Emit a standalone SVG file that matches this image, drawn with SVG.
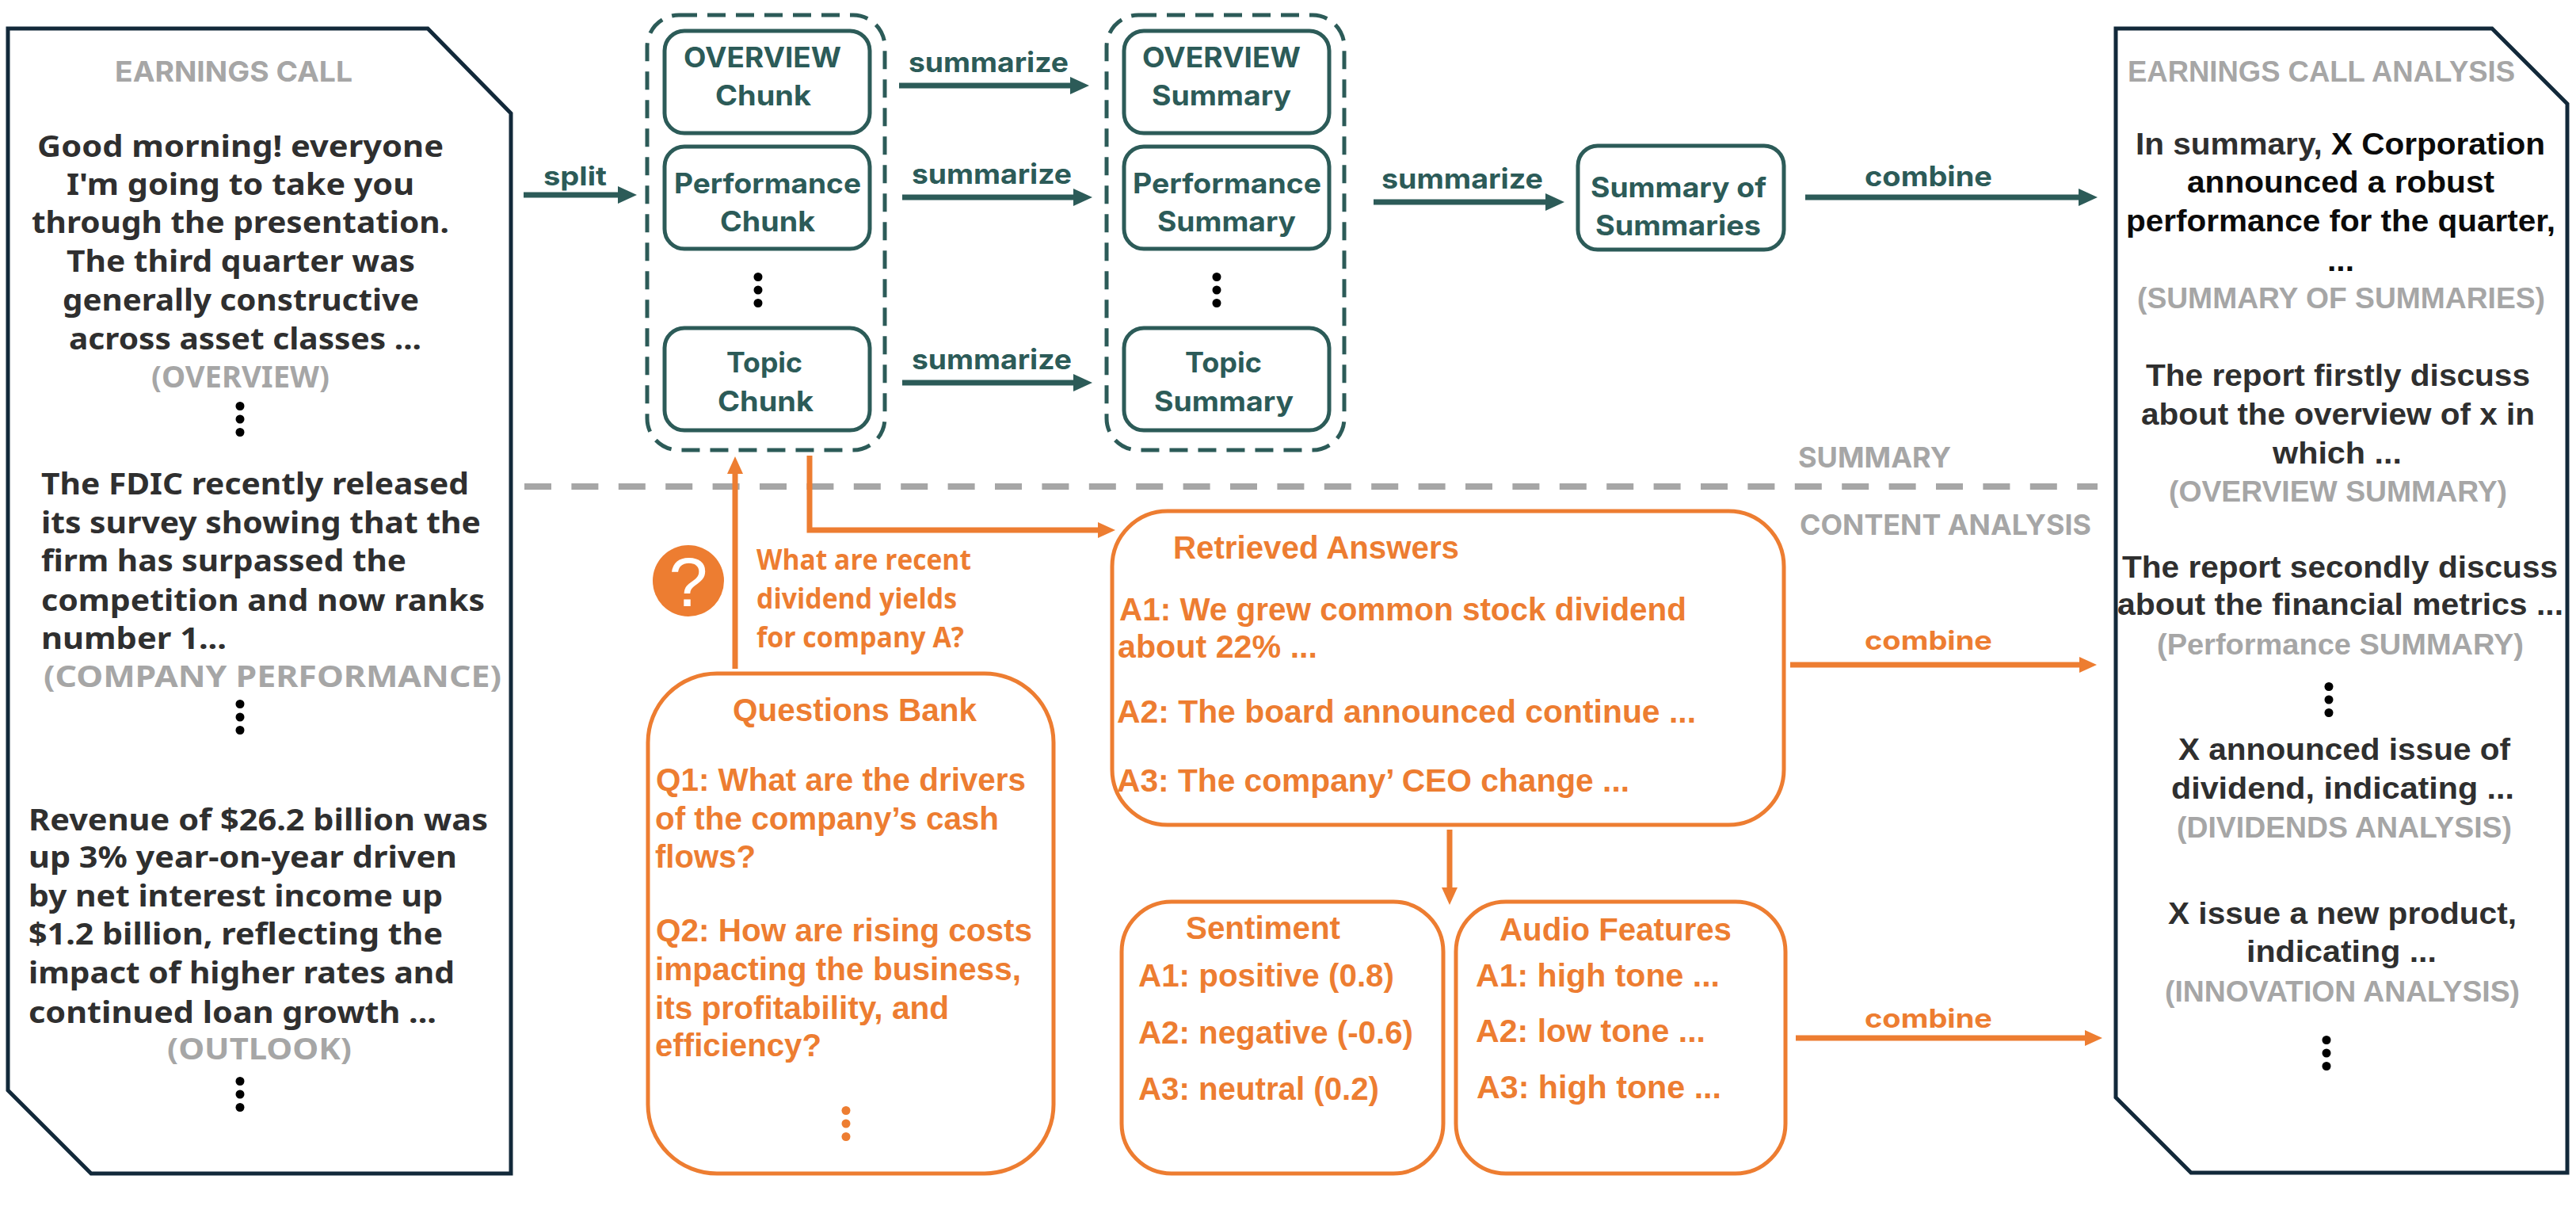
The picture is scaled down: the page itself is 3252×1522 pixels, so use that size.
<svg xmlns="http://www.w3.org/2000/svg" width="3252" height="1522" viewBox="0 0 3252 1522">
<style>
.bg{fill:#fff}
.doc{fill:#fff;stroke:#12293a;stroke-width:5;stroke-linejoin:miter}
.group{fill:none;stroke:#2c5b58;stroke-width:5;stroke-dasharray:23 13}
.tealbox{fill:#fff;stroke:#2c5b58;stroke-width:5}
.orangebox{fill:#fff;stroke:#ed7d31;stroke-width:5}
text{font-weight:700}
.src{font-family:"Noto Sans","Open Sans",sans-serif;font-size:38px;fill:#2f2f2f}
.srcg{font-family:"Noto Sans","Open Sans",sans-serif;font-size:38px;fill:#a6a6a6}
.rep{font-family:"Liberation Sans",Arial,sans-serif;font-size:38px;fill:#2f2f2f}
.repk{font-family:"Liberation Sans",Arial,sans-serif;font-size:38px;fill:#0b0b0b}
.repg{font-family:"Liberation Sans",Arial,sans-serif;font-size:36px;fill:#a6a6a6}
.head{font-family:Inter,Roboto,sans-serif;font-size:36px;fill:#a6a6a6}
.t{font-family:Inter,Roboto,sans-serif;font-size:35px;fill:#2c5b58}
.o{font-family:"Liberation Sans",Arial,sans-serif;font-size:40px;fill:#ed7d31}
.ol{font-family:Inter,Roboto,sans-serif;font-size:32px;fill:#ed7d31}
.oq{font-family:"Open Sans","Noto Sans",sans-serif;font-size:35px;fill:#ed7d31}
.wire{fill:none;stroke-width:7}
.wt{stroke:#2c5b58}
.wo{stroke:#ed7d31}
.sep{fill:none;stroke:#a6a6a6;stroke-width:8;stroke-dasharray:34 25.4}
</style>
<defs>
<marker id="headTeal" markerUnits="userSpaceOnUse" markerWidth="24" markerHeight="24" refX="12" refY="12" orient="auto"><path d="M0 1 L24 12 L0 23 Z" fill="#2c5b58"/></marker>
<marker id="headOrange" markerUnits="userSpaceOnUse" markerWidth="24" markerHeight="24" refX="10" refY="11" orient="auto"><path d="M0 1 L22 11 L0 21 Z" fill="#ed7d31"/></marker>
<g id="vdots"><circle cx="0" cy="-16.5" r="5.5"/><circle cx="0" cy="0" r="5.5"/><circle cx="0" cy="16.5" r="5.5"/></g>
</defs>
<rect class="bg" width="3252" height="1522"/>

<!-- Source transcript document -->
<g id="earnings-call">
<path class="doc" d="M10 36 H540 L645 143 V1481 H115 L10 1376 Z"/>
<text class="head" x="145" y="103" textLength="300" lengthAdjust="spacingAndGlyphs">EARNINGS CALL</text>
<text class="src" x="47" y="198" textLength="513" lengthAdjust="spacingAndGlyphs">Good morning! everyone</text>
<text class="src" x="84" y="246" textLength="439" lengthAdjust="spacingAndGlyphs">I'm going to take you</text>
<text class="src" x="40" y="294" textLength="527" lengthAdjust="spacingAndGlyphs">through the presentation.</text>
<text class="src" x="84" y="343" textLength="440" lengthAdjust="spacingAndGlyphs">The third quarter was</text>
<text class="src" x="79" y="392" textLength="450" lengthAdjust="spacingAndGlyphs">generally constructive</text>
<text class="src" x="87" y="441" textLength="445" lengthAdjust="spacingAndGlyphs">across asset classes ...</text>
<text class="srcg" x="191" y="489" textLength="225" lengthAdjust="spacingAndGlyphs">(OVERVIEW)</text>
<use href="#vdots" x="303" y="529"/>
<text class="src" x="52" y="624" textLength="540" lengthAdjust="spacingAndGlyphs">The FDIC recently released</text>
<text class="src" x="52" y="673" textLength="555" lengthAdjust="spacingAndGlyphs">its survey showing that the</text>
<text class="src" x="52" y="721" textLength="461" lengthAdjust="spacingAndGlyphs">firm has surpassed the</text>
<text class="src" x="52" y="771" textLength="560" lengthAdjust="spacingAndGlyphs">competition and now ranks</text>
<text class="src" x="52" y="819" textLength="234" lengthAdjust="spacingAndGlyphs">number 1...</text>
<text class="srcg" x="55" y="867" textLength="578" lengthAdjust="spacingAndGlyphs">(COMPANY PERFORMANCE)</text>
<use href="#vdots" x="303" y="905"/>
<text class="src" x="36" y="1048" textLength="580" lengthAdjust="spacingAndGlyphs">Revenue of $26.2 billion was</text>
<text class="src" x="36" y="1095" textLength="541" lengthAdjust="spacingAndGlyphs">up 3% year-on-year driven</text>
<text class="src" x="36" y="1144" textLength="523" lengthAdjust="spacingAndGlyphs">by net interest income up</text>
<text class="src" x="36" y="1192" textLength="523" lengthAdjust="spacingAndGlyphs">$1.2 billion, reflecting the</text>
<text class="src" x="36" y="1241" textLength="538" lengthAdjust="spacingAndGlyphs">impact of higher rates and</text>
<text class="src" x="36" y="1291" textLength="515" lengthAdjust="spacingAndGlyphs">continued loan growth ...</text>
<text class="srcg" x="211" y="1337" textLength="233" lengthAdjust="spacingAndGlyphs">(OUTLOOK)</text>
<use href="#vdots" x="303" y="1381"/>
</g>

<!-- Dashed containers -->
<g id="chunk-group"><rect class="group" x="817" y="19" width="300" height="549" rx="40"/></g>
<g id="summary-group"><rect class="group" x="1397" y="19" width="300" height="549" rx="40"/></g>

<!-- Chunks -->
<g id="chunk-overview">
<rect class="tealbox" x="839" y="39" width="259" height="129" rx="25"/>
<text class="t" x="863" y="85" textLength="199" lengthAdjust="spacingAndGlyphs">OVERVIEW</text>
<text class="t" x="903" y="133" textLength="121" lengthAdjust="spacingAndGlyphs">Chunk</text>
</g>
<g id="chunk-performance">
<rect class="tealbox" x="839" y="185" width="259" height="129" rx="25"/>
<text class="t" x="851" y="244" textLength="236" lengthAdjust="spacingAndGlyphs">Performance</text>
<text class="t" x="909" y="292" textLength="120" lengthAdjust="spacingAndGlyphs">Chunk</text>
</g>
<use href="#vdots" x="957" y="366"/>
<g id="chunk-topic">
<rect class="tealbox" x="839" y="414" width="259" height="129" rx="25"/>
<text class="t" x="917" y="470" textLength="96" lengthAdjust="spacingAndGlyphs">Topic</text>
<text class="t" x="906" y="519" textLength="121" lengthAdjust="spacingAndGlyphs">Chunk</text>
</g>

<!-- Section summaries -->
<g id="summary-overview">
<rect class="tealbox" x="1419" y="39" width="259" height="129" rx="25"/>
<text class="t" x="1442" y="85" textLength="200" lengthAdjust="spacingAndGlyphs">OVERVIEW</text>
<text class="t" x="1454" y="133" textLength="176" lengthAdjust="spacingAndGlyphs">Summary</text>
</g>
<g id="summary-performance">
<rect class="tealbox" x="1419" y="185" width="259" height="129" rx="25"/>
<text class="t" x="1430" y="244" textLength="238" lengthAdjust="spacingAndGlyphs">Performance</text>
<text class="t" x="1461" y="292" textLength="175" lengthAdjust="spacingAndGlyphs">Summary</text>
</g>
<use href="#vdots" x="1536" y="366"/>
<g id="summary-topic">
<rect class="tealbox" x="1419" y="414" width="259" height="129" rx="25"/>
<text class="t" x="1496" y="470" textLength="97" lengthAdjust="spacingAndGlyphs">Topic</text>
<text class="t" x="1457" y="519" textLength="176" lengthAdjust="spacingAndGlyphs">Summary</text>
</g>

<g id="summary-of-summaries">
<rect class="tealbox" x="1992" y="184" width="260" height="131" rx="25"/>
<text class="t" x="2008" y="249" textLength="222" lengthAdjust="spacingAndGlyphs">Summary of</text>
<text class="t" x="2014" y="297" textLength="209" lengthAdjust="spacingAndGlyphs">Summaries</text>
</g>

<!-- Section captions around the divider -->
<g id="section-labels">
<text class="head" x="2270" y="590" textLength="193" lengthAdjust="spacingAndGlyphs">SUMMARY</text>
<text class="head" x="2272" y="675" textLength="368" lengthAdjust="spacingAndGlyphs">CONTENT ANALYSIS</text>
</g>

<!-- Question prompt -->
<g id="question-prompt">
<circle cx="869" cy="733" r="45" fill="#ed7d31"/>
<text x="869" y="765" text-anchor="middle" font-family="Liberation Sans, Arial, sans-serif" font-size="88" style="font-weight:400" fill="#fff">?</text>
<text class="oq" x="955" y="719" textLength="271" lengthAdjust="spacingAndGlyphs">What are recent</text>
<text class="oq" x="955" y="768" textLength="253" lengthAdjust="spacingAndGlyphs">dividend yields</text>
<text class="oq" x="955" y="817" textLength="262" lengthAdjust="spacingAndGlyphs">for company A?</text>
</g>

<g id="questions-bank">
<rect class="orangebox" x="818" y="850" width="512" height="631" rx="87"/>
<text class="o" x="925" y="910" textLength="308" lengthAdjust="spacingAndGlyphs">Questions Bank</text>
<text class="o" x="828" y="998" textLength="467" lengthAdjust="spacingAndGlyphs">Q1: What are the drivers</text>
<text class="o" x="827" y="1047" textLength="434" lengthAdjust="spacingAndGlyphs">of the company’s cash</text>
<text class="o" x="827" y="1095" textLength="127" lengthAdjust="spacingAndGlyphs">flows?</text>
<text class="o" x="828" y="1188" textLength="475" lengthAdjust="spacingAndGlyphs">Q2: How are rising costs</text>
<text class="o" x="827" y="1237" textLength="462" lengthAdjust="spacingAndGlyphs">impacting the business,</text>
<text class="o" x="827" y="1286" textLength="371" lengthAdjust="spacingAndGlyphs">its profitability, and</text>
<text class="o" x="827" y="1333" textLength="210" lengthAdjust="spacingAndGlyphs">efficiency?</text>
<use href="#vdots" x="1068" y="1418" fill="#ed7d31"/>
</g>

<g id="retrieved-answers">
<rect class="orangebox" x="1404" y="645" width="848" height="396" rx="70"/>
<text class="o" x="1481" y="705" textLength="361" lengthAdjust="spacingAndGlyphs">Retrieved Answers</text>
<text class="o" x="1413" y="783" textLength="716" lengthAdjust="spacingAndGlyphs">A1: We grew common stock dividend</text>
<text class="o" x="1411" y="830" textLength="252" lengthAdjust="spacingAndGlyphs">about 22% ...</text>
<text class="o" x="1410" y="912" textLength="731" lengthAdjust="spacingAndGlyphs">A2: The board announced continue ...</text>
<text class="o" x="1410" y="999" textLength="647" lengthAdjust="spacingAndGlyphs">A3: The company’ CEO change ...</text>
</g>

<g id="sentiment">
<rect class="orangebox" x="1416" y="1138" width="406" height="343" rx="63"/>
<text class="o" x="1497" y="1185" textLength="195" lengthAdjust="spacingAndGlyphs">Sentiment</text>
<text class="o" x="1437" y="1245" textLength="323" lengthAdjust="spacingAndGlyphs">A1: positive (0.8)</text>
<text class="o" x="1437" y="1317" textLength="347" lengthAdjust="spacingAndGlyphs">A2: negative (-0.6)</text>
<text class="o" x="1437" y="1388" textLength="304" lengthAdjust="spacingAndGlyphs">A3: neutral (0.2)</text>
</g>

<g id="audio-features">
<rect class="orangebox" x="1838" y="1138" width="416" height="343" rx="63"/>
<text class="o" x="1893" y="1187" textLength="293" lengthAdjust="spacingAndGlyphs">Audio Features</text>
<text class="o" x="1863" y="1245" textLength="308" lengthAdjust="spacingAndGlyphs">A1: high tone ...</text>
<text class="o" x="1863" y="1315" textLength="290" lengthAdjust="spacingAndGlyphs">A2: low tone ...</text>
<text class="o" x="1864" y="1386" textLength="309" lengthAdjust="spacingAndGlyphs">A3: high tone ...</text>
</g>

<!-- Generated analysis document -->
<g id="earnings-call-analysis">
<path class="doc" d="M2671 36 H3146 L3241 131 V1480 H2766 L2671 1385 Z"/>
<text class="head" x="2686" y="103" textLength="489" lengthAdjust="spacingAndGlyphs" style="font-family:'Liberation Sans',Arial,sans-serif">EARNINGS CALL ANALYSIS</text>
<text class="repk" x="2696" y="195" textLength="517" lengthAdjust="spacingAndGlyphs"><tspan fill="#2f2f2f">In summary, </tspan>X Corporation</text>
<text class="repk" x="2761" y="243" textLength="388" lengthAdjust="spacingAndGlyphs">announced a robust</text>
<text class="repk" x="2684" y="292" textLength="542" lengthAdjust="spacingAndGlyphs">performance for the quarter,</text>
<text class="repk" x="2938" y="342" textLength="34" lengthAdjust="spacingAndGlyphs">...</text>
<text class="repg" x="2698" y="389" textLength="515" lengthAdjust="spacingAndGlyphs">(SUMMARY OF SUMMARIES)</text>
<text class="rep" x="2709" y="487" textLength="485" lengthAdjust="spacingAndGlyphs">The report firstly discuss</text>
<text class="rep" x="2703" y="536" textLength="497" lengthAdjust="spacingAndGlyphs">about the overview of x in</text>
<text class="rep" x="2869" y="585" textLength="163" lengthAdjust="spacingAndGlyphs">which ...</text>
<text class="repg" x="2738" y="633" textLength="427" lengthAdjust="spacingAndGlyphs">(OVERVIEW SUMMARY)</text>
<text class="rep" x="2679" y="729" textLength="550" lengthAdjust="spacingAndGlyphs">The report secondly discuss</text>
<text class="rep" x="2673" y="776" textLength="563" lengthAdjust="spacingAndGlyphs">about the financial metrics ...</text>
<text class="repg" x="2723" y="826" textLength="463" lengthAdjust="spacingAndGlyphs">(Performance SUMMARY)</text>
<use href="#vdots" x="2940" y="883"/>
<text class="rep" x="2750" y="959" textLength="419" lengthAdjust="spacingAndGlyphs">X announced issue of</text>
<text class="rep" x="2741" y="1008" textLength="433" lengthAdjust="spacingAndGlyphs">dividend, indicating ...</text>
<text class="repg" x="2748" y="1057" textLength="423" lengthAdjust="spacingAndGlyphs">(DIVIDENDS ANALYSIS)</text>
<text class="rep" x="2737" y="1166" textLength="440" lengthAdjust="spacingAndGlyphs">X issue a new product,</text>
<text class="rep" x="2836" y="1214" textLength="240" lengthAdjust="spacingAndGlyphs">indicating ...</text>
<text class="repg" x="2733" y="1264" textLength="448" lengthAdjust="spacingAndGlyphs">(INNOVATION ANALYSIS)</text>
<use href="#vdots" x="2937" y="1329"/>
</g>

<!-- Connectors and divider -->
<g id="connectors">
<path class="sep" d="M662 614 H2648"/>
<path class="wire wt" d="M661 246 H792" marker-end="url(#headTeal)"/>
<path class="wire wt" d="M1135 108 H1363" marker-end="url(#headTeal)"/>
<path class="wire wt" d="M1139 249 H1367" marker-end="url(#headTeal)"/>
<path class="wire wt" d="M1139 483 H1367" marker-end="url(#headTeal)"/>
<path class="wire wt" d="M1734 255 H1963" marker-end="url(#headTeal)"/>
<path class="wire wt" d="M2279 249 H2636" marker-end="url(#headTeal)"/>
<path class="wire wo" d="M928 844 V588" marker-end="url(#headOrange)"/>
<path class="wire wo" d="M1022 575 V669 H1396" marker-end="url(#headOrange)"/>
<path class="wire wo" d="M2260 839 H2635" marker-end="url(#headOrange)"/>
<path class="wire wo" d="M1830 1047 V1130" marker-end="url(#headOrange)"/>
<path class="wire wo" d="M2267 1310 H2642" marker-end="url(#headOrange)"/>
<g id="connector-labels">
<text class="t" x="686" y="234" textLength="80" lengthAdjust="spacingAndGlyphs" style="font-size:33px">split</text>
<text class="t" x="1147" y="91" textLength="202" lengthAdjust="spacingAndGlyphs">summarize</text>
<text class="t" x="1151" y="232" textLength="202" lengthAdjust="spacingAndGlyphs">summarize</text>
<text class="t" x="1151" y="466" textLength="202" lengthAdjust="spacingAndGlyphs">summarize</text>
<text class="t" x="1744" y="238" textLength="204" lengthAdjust="spacingAndGlyphs">summarize</text>
<text class="t" x="2354" y="235" textLength="161" lengthAdjust="spacingAndGlyphs">combine</text>
<text class="ol" x="2354" y="820" textLength="161" lengthAdjust="spacingAndGlyphs">combine</text>
<text class="ol" x="2354" y="1297" textLength="161" lengthAdjust="spacingAndGlyphs">combine</text>
</g>
</g>
</svg>
